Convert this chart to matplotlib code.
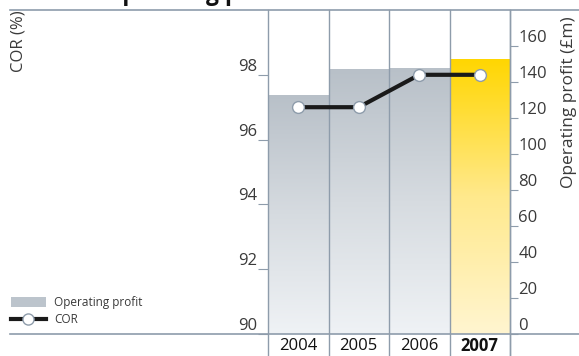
"""
Operating performance: operating profit bars with COR line
"""

import numpy as np
import matplotlib
matplotlib.use("Agg")
import matplotlib.pyplot as plt
from matplotlib.colors import LinearSegmentedColormap
from matplotlib.lines import Line2D
from matplotlib.patches import Patch

plt.rcParams["font.family"] = ["Open Sans", "DejaVu Sans"]

# -----------------------------------------------------------------------------
# Data
# -----------------------------------------------------------------------------
years = ["2004", "2005", "2006", "2007"]
profit = [133, 147, 148, 153]          # operating profit (£m)
cor = [97.0, 97.0, 98.0, 98.0]         # combined operating ratio (%)
cor_ticks = [90, 92, 94, 96, 98]
profit_ticks = [0, 20, 40, 60, 80, 100, 120, 140, 160]

GRID = "#8e9cab"
TEXT = "#3a3a3a"
grey_cmap = LinearSegmentedColormap.from_list("grey", ["#eff2f5", "#d6dbe0", "#b8c0c8"])
gold_cmap = LinearSegmentedColormap.from_list("gold", ["#fff5d0", "#ffe98c", "#ffd600"])

W, H = 579, 356
fig = plt.figure(figsize=(W / 100, H / 100), dpi=100)
ax = fig.add_axes([268 / W, 22 / H, 242 / W, 324 / H])
ax2 = ax.twinx()

# title, sitting almost entirely above the top edge
fig.text(10 / W, 1.0, "Canada: operating performance", fontsize=16.5,
         fontweight="bold", color="#111111", ha="left", va="baseline")

# -----------------------------------------------------------------------------
# Bars with vertical gradients (right axis)
# -----------------------------------------------------------------------------
xpos = np.arange(len(years))
bars = ax2.bar(xpos, profit, width=1.0, color="none", edgecolor="none", zorder=1)
grad = np.linspace(0, 1, 256).reshape(-1, 1)
for k, b in enumerate(bars):
    cmap = gold_cmap if k == len(years) - 1 else grey_cmap
    im = ax2.imshow(grad, cmap=cmap, origin="lower", aspect="auto",
                    extent=[b.get_x(), b.get_x() + b.get_width(), 0, b.get_height()],
                    zorder=1)
    im.set_clip_path(b)
ax2.set_xlim(-0.5, len(years) - 0.5)
ax2.set_ylim(0, 180)

# dividers between years, running down through the year labels
for x in np.arange(-0.5, len(years), 1.0):
    ax2.plot([x, x], [-0.07, 1.0], transform=ax2.get_xaxis_transform(),
             color=GRID, lw=1.0, clip_on=False, zorder=3)

# -----------------------------------------------------------------------------
# COR line (left axis)
# -----------------------------------------------------------------------------
ax.set_ylim(90, 100)
ax.set_zorder(ax2.get_zorder() + 1)
ax.patch.set_visible(False)
ax.plot(xpos, cor, color="#1a1a1a", lw=3, marker="o", ms=8.5,
        mfc="white", mec="#8e9cab", mew=1.0, zorder=5, clip_on=False)
ax.set_xlim(-0.5, len(years) - 0.5)

# axes styling
for a in (ax, ax2):
    for sp in a.spines.values():
        sp.set_visible(False)
    a.set_xticks([])

ax.set_yticks(cor_ticks)
ax.set_yticklabels([str(t) for t in cor_ticks])
ax.tick_params(axis="y", length=7.5, width=0.8, color=GRID, pad=0,
               labelsize=12, labelcolor=TEXT)
for lab in ax.get_yticklabels():
    lab.set_va("bottom")
ax.set_ylabel("COR (%)", fontsize=12, color=TEXT)
ax.yaxis.set_label_coords(-241 / 242, 0.904)

ax2.set_yticks(profit_ticks)
ax2.set_yticklabels([str(t) for t in profit_ticks])
ax2.tick_params(axis="y", length=6, width=0.8, color=GRID, pad=0,
                labelsize=12, labelcolor=TEXT)
for lab in ax2.get_yticklabels():
    lab.set_va("bottom")
ax2.set_ylabel("Operating profit (£m)", fontsize=12.5, color=TEXT)
ax2.yaxis.set_label_coords(1 + 51 / 242, 0.716)

# right axis line spans the full height
ax2.plot([1.0, 1.0], [-0.07, 1.0], transform=ax2.transAxes, color=GRID,
         lw=1.0, clip_on=False, zorder=3)

# year labels under the baseline
for k, y in enumerate(years):
    ax2.text(xpos[k], -0.037, y, transform=ax2.get_xaxis_transform(),
             ha="center", va="center", fontsize=12, color="#111111",
             fontweight="bold" if k == len(years) - 1 else "normal")

# full-width frame lines at top and baseline
fig.add_artist(Line2D([10 / W, 1.0], [1 - 10 / H, 1 - 10 / H], color=GRID, lw=1.2))
fig.add_artist(Line2D([10 / W, 1.0], [22 / H, 22 / H], color=GRID, lw=1.2))

# legend
handles = [Patch(facecolor="#bcc4cc", edgecolor="none", label="Operating profit"),
           Line2D([], [], color="#1a1a1a", lw=3, marker="o", ms=8, mfc="white",
                  mec="#8e9cab", label="COR")]
fig.legend(handles=handles, loc="lower left", bbox_to_anchor=(0, 19 / H),
           frameon=False, fontsize=8.5, handlelength=3.0, handleheight=0.9,
           handletextpad=0.7, labelspacing=0.35, labelcolor=TEXT)

fig.savefig("out.png", dpi=100)
